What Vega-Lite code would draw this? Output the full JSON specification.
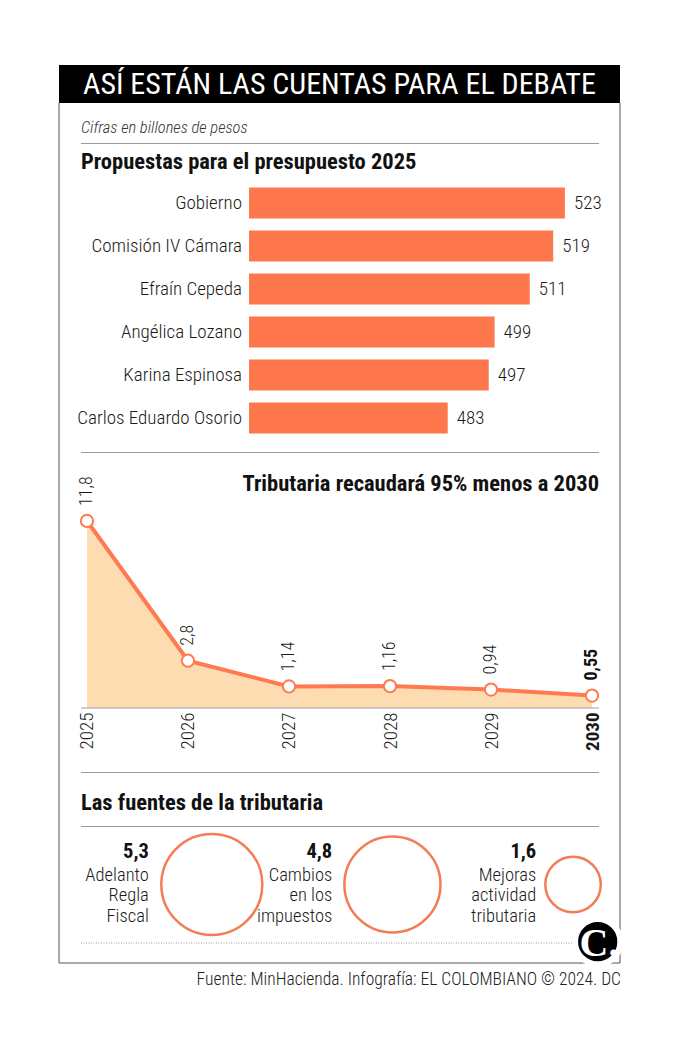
{
  "$schema": "https://vega.github.io/schema/vega-lite/v6.json",
  "background": "#ffffff",
  "padding": {"left": 58, "top": 65, "right": 62, "bottom": 49},
  "spacing": 0,
  "bounds": "flush",
  "config": {
    "view": {"stroke": null},
    "font": "Roboto Condensed, Liberation Sans Narrow, sans-serif",
    "locale": {"number": {"decimal": ",", "thousands": ".", "grouping": [3], "currency": ["$", ""]}}
  },
  "datasets": {
    "presupuesto": [
      {"nombre": "Gobierno", "valor": 523},
      {"nombre": "Comisión IV Cámara", "valor": 519},
      {"nombre": "Efraín Cepeda", "valor": 511},
      {"nombre": "Angélica Lozano", "valor": 499},
      {"nombre": "Karina Espinosa", "valor": 497},
      {"nombre": "Carlos Eduardo Osorio", "valor": 483}
    ],
    "tributaria": [
      {"anio": "2025", "valor": 11.8},
      {"anio": "2026", "valor": 2.8},
      {"anio": "2027", "valor": 1.14},
      {"anio": "2028", "valor": 1.16},
      {"anio": "2029", "valor": 0.94},
      {"anio": "2030", "valor": 0.55}
    ],
    "fuentes": [
      {"fuente": "Adelanto\nRegla\nFiscal", "valor": 5.3},
      {"fuente": "Cambios\nen los\nimpuestos", "valor": 4.8},
      {"fuente": "Mejoras\nactividad\ntributaria", "valor": 1.6}
    ]
  },
  "vconcat": [
    {
      "width": 561,
      "height": 38,
      "view": {"fill": "#000000", "stroke": null},
      "data": {"values": [{}]},
      "mark": {"type": "text", "text": "ASÍ ESTÁN LAS CUENTAS PARA EL DEBATE", "color": "#ffffff", "fontSize": 30, "baseline": "middle", "align": "center", "dy": 1},
      "encoding": {}
    },
    {
      "width": 561,
      "height": 40,
      "layer": [
        {
          "data": {"values": [{}]},
          "mark": {"type": "text", "text": "Cifras en billones de pesos", "fontStyle": "italic", "fontSize": 16.5, "fontWeight": 300, "align": "left", "baseline": "alphabetic", "color": "#333333"},
          "encoding": {"x": {"value": 22}, "y": {"value": 29.5}}
        },
        {
          "data": {"values": [{}]},
          "mark": {"type": "rule", "color": "#9a9a9a", "strokeWidth": 1},
          "encoding": {"x": {"value": 22}, "x2": {"value": 540}, "y": {"value": 40.5}}
        },
        {
          "data": {"values": [{}]},
          "mark": {"type": "rule", "color": "#555555", "strokeWidth": 1},
          "encoding": {"x": {"value": 0}, "y": {"value": 0}, "y2": {"value": 40}}
        },
        {
          "data": {"values": [{}]},
          "mark": {"type": "rule", "color": "#555555", "strokeWidth": 1},
          "encoding": {"x": {"value": 561}, "y": {"value": 0}, "y2": {"value": 40}}
        }
      ]
    },
    {
      "width": 561,
      "height": 309,
      "layer": [
        {
          "data": {"name": "presupuesto"},
          "mark": {"type": "bar", "color": "#FF774C"},
          "encoding": {
            "y": {"field": "nombre", "type": "nominal", "sort": null, "axis": null,
                  "scale": {"paddingInner": 0.279, "paddingOuter": 0.733, "align": 0.706}},
            "x": {"field": "valor", "type": "quantitative", "axis": null,
                  "scale": {"domain": [350.35, 541.8], "nice": false, "zero": false}},
            "x2": {"datum": 415.2}
          }
        },
        {
          "data": {"name": "presupuesto"},
          "mark": {"type": "text", "align": "right", "baseline": "middle", "dx": -7, "fontSize": 19, "fontWeight": 300, "color": "#1a1a1a"},
          "encoding": {
            "y": {"field": "nombre", "type": "nominal", "sort": null},
            "x": {"datum": 415.2},
            "text": {"field": "nombre"}
          }
        },
        {
          "data": {"name": "presupuesto"},
          "mark": {"type": "text", "align": "left", "baseline": "middle", "dx": 9, "fontSize": 19, "fontWeight": 300, "color": "#1a1a1a"},
          "encoding": {
            "y": {"field": "nombre", "type": "nominal", "sort": null},
            "x": {"field": "valor", "type": "quantitative"},
            "text": {"field": "valor", "type": "quantitative", "format": "d"}
          }
        },
        {
          "data": {"values": [{}]},
          "mark": {"type": "text", "text": "Propuestas para el presupuesto 2025", "fontSize": 22.5, "fontWeight": "bold", "align": "left", "baseline": "alphabetic", "color": "#111111"},
          "encoding": {"x": {"value": 22}, "y": {"value": 26}}
        },
        {
          "data": {"values": [{}]},
          "mark": {"type": "rule", "color": "#9a9a9a", "strokeWidth": 1},
          "encoding": {"x": {"value": 22}, "x2": {"value": 540}, "y": {"value": 309.5}}
        },
        {
          "data": {"values": [{}]},
          "mark": {"type": "rule", "color": "#555555", "strokeWidth": 1},
          "encoding": {"x": {"value": 0}, "y": {"value": 0}, "y2": {"value": 309}}
        },
        {
          "data": {"values": [{}]},
          "mark": {"type": "rule", "color": "#555555", "strokeWidth": 1},
          "encoding": {"x": {"value": 561}, "y": {"value": 0}, "y2": {"value": 309}}
        }
      ]
    },
    {
      "width": 561,
      "height": 256,
      "layer": [
        {
          "data": {"name": "tributaria"},
          "mark": {"type": "area", "color": "#FDDCB1", "opacity": 1},
          "encoding": {
            "x": {"field": "anio", "type": "ordinal", "scale": {"type": "point", "padding": 0.277},
                  "axis": {"title": null, "labelAngle": -90, "domain": false, "ticks": false, "labelPadding": 4,
                           "labelFontSize": 19, "labelColor": "#1a1a1a",
                           "labelFontWeight": {"expr": "datum.value == '2030' ? 'bold' : 300"}}},
            "y": {"field": "valor", "type": "quantitative", "axis": null,
                  "scale": {"domain": [-0.25, 16.245], "nice": false, "zero": false}},
            "y2": {"datum": -0.25}
          }
        },
        {
          "data": {"values": [{}]},
          "mark": {"type": "rule", "color": "#a0a0a0", "strokeWidth": 1},
          "encoding": {"x": {"value": 22}, "x2": {"value": 540}, "y": {"datum": -0.25}}
        },
        {
          "data": {"name": "tributaria"},
          "mark": {"type": "line", "color": "#FF7A50", "strokeWidth": 4},
          "encoding": {
            "x": {"field": "anio", "type": "ordinal"},
            "y": {"field": "valor", "type": "quantitative"}
          }
        },
        {
          "data": {"name": "tributaria"},
          "mark": {"type": "point", "filled": true, "fill": "#ffffff", "stroke": "#FF7A50", "strokeWidth": 2, "size": 150, "opacity": 1},
          "encoding": {
            "x": {"field": "anio", "type": "ordinal"},
            "y": {"field": "valor", "type": "quantitative"}
          }
        },
        {
          "data": {"name": "tributaria"},
          "transform": [{"filter": "datum.anio != '2030'"}],
          "mark": {"type": "text", "angle": 270, "align": "left", "baseline": "middle", "dx": 15, "fontSize": 18, "fontWeight": 300, "color": "#1a1a1a"},
          "encoding": {
            "x": {"field": "anio", "type": "ordinal"},
            "y": {"field": "valor", "type": "quantitative"},
            "text": {"field": "valor", "type": "quantitative", "format": ".2~f"}
          }
        },
        {
          "data": {"name": "tributaria"},
          "transform": [{"filter": "datum.anio == '2030'"}],
          "mark": {"type": "text", "angle": 270, "align": "left", "baseline": "middle", "dx": 15, "fontSize": 18, "fontWeight": "bold", "color": "#111111"},
          "encoding": {
            "x": {"field": "anio", "type": "ordinal"},
            "y": {"field": "valor", "type": "quantitative"},
            "text": {"field": "valor", "type": "quantitative", "format": ".2~f"}
          }
        },
        {
          "data": {"values": [{}]},
          "mark": {"type": "text", "text": "Tributaria recaudará 95% menos a 2030", "fontSize": 22.5, "fontWeight": "bold", "align": "right", "baseline": "alphabetic", "color": "#111111"},
          "encoding": {"x": {"value": 540}, "y": {"value": 39}}
        },
        {
          "data": {"values": [{}]},
          "mark": {"type": "rule", "color": "#555555", "strokeWidth": 1},
          "encoding": {"x": {"value": 0}, "y": {"value": 0}, "y2": {"value": 256}}
        },
        {
          "data": {"values": [{}]},
          "mark": {"type": "rule", "color": "#555555", "strokeWidth": 1},
          "encoding": {"x": {"value": 561}, "y": {"value": 0}, "y2": {"value": 256}}
        }
      ]
    },
    {
      "width": 561,
      "height": 118,
      "layer": [
        {
          "data": {"values": [{}]},
          "mark": {"type": "rule", "color": "#9a9a9a", "strokeWidth": 1},
          "encoding": {"x": {"value": 22}, "x2": {"value": 540}, "y": {"value": 64.5}}
        },
        {
          "data": {"values": [{}]},
          "mark": {"type": "text", "text": "Las fuentes de la tributaria", "fontSize": 22.5, "fontWeight": "bold", "align": "left", "baseline": "alphabetic", "color": "#111111"},
          "encoding": {"x": {"value": 22}, "y": {"value": 101.5}}
        },
        {
          "data": {"values": [{}]},
          "mark": {"type": "rule", "color": "#9a9a9a", "strokeWidth": 1},
          "encoding": {"x": {"value": 22}, "x2": {"value": 540}, "y": {"value": 118.5}}
        },
        {
          "data": {"values": [{}]},
          "mark": {"type": "rule", "color": "#555555", "strokeWidth": 1},
          "encoding": {"x": {"value": 0}, "y": {"value": 0}, "y2": {"value": 118}}
        },
        {
          "data": {"values": [{}]},
          "mark": {"type": "rule", "color": "#555555", "strokeWidth": 1},
          "encoding": {"x": {"value": 561}, "y": {"value": 0}, "y2": {"value": 118}}
        }
      ]
    },
    {
      "width": 561,
      "height": 117,
      "layer": [
        {
          "data": {"name": "fuentes"},
          "mark": {"type": "point", "shape": "circle", "filled": false, "fill": "#ffffff", "stroke": "#F47C56", "strokeWidth": 2.5, "opacity": 1},
          "encoding": {
            "x": {"field": "fuente", "type": "nominal", "sort": null, "axis": null,
                  "scale": {"type": "point", "padding": 0.553, "align": 0.765}},
            "size": {"field": "valor", "type": "quantitative", "legend": null,
                     "scale": {"type": "linear", "zero": true, "domain": [0, 5.3], "range": [0, 10200]}}
          }
        },
        {
          "data": {"name": "fuentes"},
          "mark": {"type": "text", "align": "right", "baseline": "alphabetic", "dy": -26.5, "fontSize": 20.5, "fontWeight": "bold", "color": "#111111",
                   "dx": {"expr": "-(sqrt(datum.valor / 5.3) * 58 + 5)"}},
          "encoding": {
            "x": {"field": "fuente", "type": "nominal", "sort": null},
            "text": {"field": "valor", "type": "quantitative", "format": ".1f"}
          }
        },
        {
          "data": {"name": "fuentes"},
          "mark": {"type": "text", "align": "right", "baseline": "alphabetic", "dy": -3.5, "lineBreak": "\n", "lineHeight": 20.3, "fontSize": 18.5, "fontWeight": 300, "color": "#1a1a1a",
                   "dx": {"expr": "-(sqrt(datum.valor / 5.3) * 58 + 5)"}},
          "encoding": {
            "x": {"field": "fuente", "type": "nominal", "sort": null},
            "text": {"field": "fuente"}
          }
        },
        {
          "data": {"values": [{}]},
          "mark": {"type": "rule", "color": "#555555", "strokeWidth": 1},
          "encoding": {"x": {"value": 0}, "y": {"value": 0}, "y2": {"value": 117}}
        },
        {
          "data": {"values": [{}]},
          "mark": {"type": "rule", "color": "#555555", "strokeWidth": 1},
          "encoding": {"x": {"value": 561}, "y": {"value": 0}, "y2": {"value": 117}}
        }
      ]
    },
    {
      "width": 561,
      "height": 57,
      "layer": [
        {
          "data": {"values": [{}]},
          "mark": {"type": "rule", "color": "#9a9a9a", "strokeWidth": 1, "strokeDash": [1, 1.5]},
          "encoding": {"x": {"value": 22}, "x2": {"value": 540}, "y": {"value": 0}}
        },
        {
          "data": {"values": [{}]},
          "mark": {"type": "rule", "color": "#555555", "strokeWidth": 1},
          "encoding": {"x": {"value": 0}, "y": {"value": 0}, "y2": {"value": 20}}
        },
        {
          "data": {"values": [{}]},
          "mark": {"type": "rule", "color": "#555555", "strokeWidth": 1},
          "encoding": {"x": {"value": 561}, "y": {"value": -5}, "y2": {"value": 20}}
        },
        {
          "data": {"values": [{}]},
          "mark": {"type": "rule", "color": "#555555", "strokeWidth": 1},
          "encoding": {"x": {"value": 0}, "x2": {"value": 561}, "y": {"value": 20}}
        },
        {
          "data": {"values": [{}]},
          "mark": {"type": "point", "shape": "circle", "filled": true, "fill": "#000000", "stroke": "#ffffff", "strokeWidth": 6, "size": 2043, "opacity": 1},
          "encoding": {"x": {"value": 538.7}, "y": {"value": -1.3}}
        },
        {
          "data": {"values": [{}]},
          "mark": {"type": "text", "text": "C.", "font": "Liberation Serif", "fontWeight": "bold", "fontSize": 40, "color": "#ffffff", "align": "center", "baseline": "middle"},
          "encoding": {"x": {"value": 540}, "y": {"value": 0.5}}
        },
        {
          "data": {"values": [{}]},
          "mark": {"type": "text", "text": "Fuente: MinHacienda. Infografía: EL COLOMBIANO © 2024. DC", "fontSize": 17.5, "fontWeight": 300, "align": "right", "baseline": "alphabetic", "color": "#222222"},
          "encoding": {"x": {"value": 562}, "y": {"value": 42}}
        }
      ]
    }
  ]
}
